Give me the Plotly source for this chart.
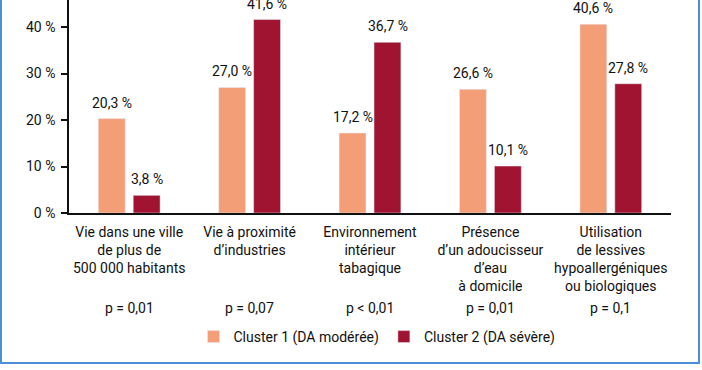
import plotly.graph_objects as go

categories = [
    "Vie dans une ville<br>de plus de<br>500 000 habitants",
    "Vie à proximité<br>d’industries",
    "Environnement<br>intérieur<br>tabagique",
    "Présence<br>d’un adoucisseur<br>d’eau<br>à domicile",
    "Utilisation<br>de lessives<br>hypoallergéniques<br>ou biologiques",
]
cluster1 = [20.3, 27.0, 17.2, 26.6, 40.6]
cluster2 = [3.8, 41.6, 36.7, 10.1, 27.8]
p_values = ["p = 0,01", "p = 0,07", "p < 0,01", "p = 0,01", "p = 0,1"]
y_ticks = [0, 10, 20, 30, 40]
series_names = ["Cluster 1 (DA modérée)", "Cluster 2 (DA sévère)"]

C1 = "#F49E78"
C2 = "#A01431"
FONT = "Roboto"
FS = 14

W, H = 702, 370
L, R, T, B = 69, 31, 0, 157
pw, ph = W - L - R, H - T - B

def fmt(v):
    return f"{v:.1f}".replace(".", ",") + " %"

fig = go.Figure()
fig.add_trace(go.Bar(x=categories, y=cluster1, name=series_names[0], marker_color=C1))
fig.add_trace(go.Bar(x=categories, y=cluster2, name=series_names[1], marker_color=C2))

annotations = []
for i, cat in enumerate(categories):
    for vals, shift in ((cluster1, -17.5), (cluster2, 17.5)):
        annotations.append(dict(
            x=cat, y=vals[i], xref="x", yref="y", text=fmt(vals[i]),
            showarrow=False, xshift=shift, yshift=6, yanchor="bottom",
            font=dict(family=FONT, size=FS, color="#111"),
        ))
    annotations.append(dict(
        x=cat, y=(ph - 308) / ph, xref="x", yref="paper", text=p_values[i],
        showarrow=False, yanchor="middle",
        font=dict(family=FONT, size=FS, color="#111"),
    ))

border = dict(
    type="rect", xref="paper", yref="paper",
    x0=(1 - L) / pw, x1=(699 - L) / pw,
    y0=(ph - 363) / ph, y1=1.2,
    line=dict(color="#4A8FD8", width=2), fillcolor="rgba(0,0,0,0)", layer="below",
)

fig.update_layout(
    width=W, height=H,
    margin=dict(l=L, r=R, t=T, b=B, pad=0),
    paper_bgcolor="white", plot_bgcolor="white",
    barmode="group", bargap=0.42, bargroupgap=0.23,
    font=dict(family=FONT, size=FS, color="#111"),
    showlegend=True,
    legend=dict(
        orientation="h", x=(377 - L) / pw, xanchor="center",
        y=(ph - 337) / ph, yanchor="middle",
        font=dict(family=FONT, size=FS, color="#111"),
        itemclick=False, bgcolor="rgba(0,0,0,0)",
    ),
    xaxis=dict(
        showline=True, linecolor="#111", linewidth=1.5,
        ticks="", showgrid=False, ticklabelstandoff=5,
        tickfont=dict(family=FONT, size=FS, color="#111"),
    ),
    yaxis=dict(
        range=[0, 213 / 4.65], showline=True, linecolor="#111", linewidth=1.5,
        ticks="outside", ticklen=6, tickcolor="#111", tickwidth=1.5,
        tickvals=y_ticks, ticktext=[f"{v} %" for v in y_ticks],
        showgrid=False, zeroline=False, ticklabelstandoff=3,
        tickfont=dict(family=FONT, size=FS, color="#111"),
    ),
    annotations=annotations,
    shapes=[border],
)

fig.write_html(
    "out.html",
    config={"displayModeBar": False},
    post_script="document.body.style.margin='0';document.body.style.overflow='hidden';",
)
